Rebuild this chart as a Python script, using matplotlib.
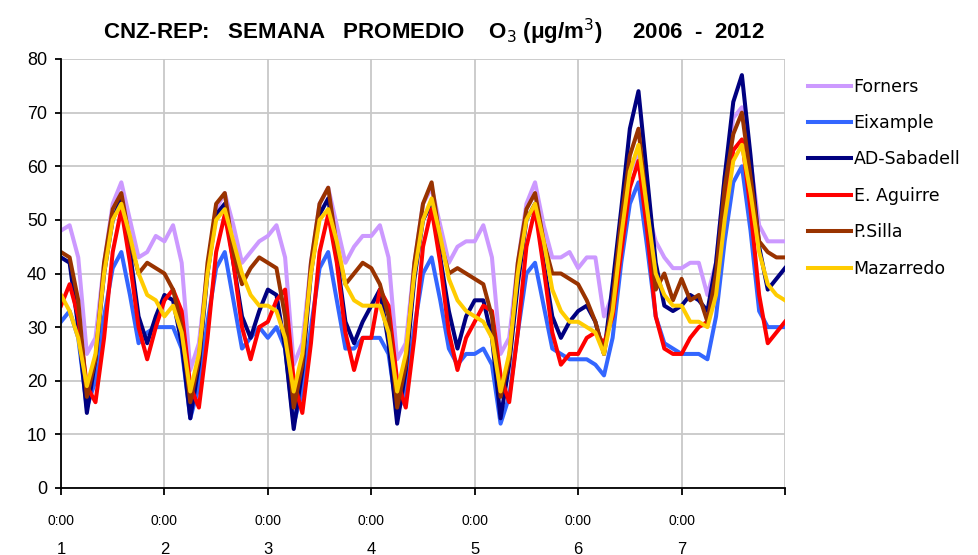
import matplotlib
matplotlib.use("Agg")
from matplotlib import pyplot as plt
from matplotlib import transforms
import numpy as np

# hourly average week, one value every 2 hours (0:00 day 1 .. 0:00 day 8)
hours = np.arange(0, 169, 2)

forners = [48, 49, 43, 25, 28, 42, 53, 57, 50, 43, 44, 47,
           46, 49, 42, 22, 27, 41, 52, 55, 49, 42, 44, 46,
           47, 49, 43, 23, 27, 42, 53, 56, 49, 42, 45, 47,
           47, 49, 43, 24, 27, 42, 53, 56, 49, 42, 45, 46,
           46, 49, 43, 25, 28, 42, 53, 57, 49, 43, 43, 44,
           41, 43, 43, 32, 36, 49, 59, 62, 52, 46, 43, 41,
           41, 42, 42, 36, 42, 58, 69, 71, 61, 49, 46, 46,
           46]
eixample = [31, 33, 28, 15, 20, 32, 41, 44, 36, 27, 29, 30,
            30, 30, 26, 13, 19, 31, 41, 44, 35, 26, 28, 30,
            28, 30, 26, 12, 18, 30, 41, 44, 35, 26, 26, 28,
            28, 28, 25, 14, 18, 30, 40, 43, 35, 26, 23, 25,
            25, 26, 23, 12, 17, 29, 40, 42, 34, 26, 25, 24,
            24, 24, 23, 21, 28, 42, 53, 57, 45, 32, 27, 26,
            25, 25, 25, 24, 32, 46, 57, 60, 48, 33, 30, 30,
            30]
sabadell = [43, 42, 30, 14, 24, 40, 50, 54, 44, 32, 27, 32,
            36, 35, 27, 13, 23, 40, 51, 53, 42, 32, 28, 33,
            37, 36, 26, 11, 22, 40, 51, 54, 43, 31, 27, 31,
            34, 37, 27, 12, 22, 39, 50, 53, 43, 33, 26, 32,
            35, 35, 28, 13, 23, 38, 50, 53, 42, 32, 28, 31,
            33, 34, 31, 25, 38, 52, 67, 74, 58, 42, 34, 33,
            34, 36, 35, 33, 42, 58, 72, 77, 62, 45, 37, 39,
            41]
aguirre = [34, 38, 32, 19, 16, 28, 44, 52, 42, 30, 24, 30,
           35, 37, 33, 19, 15, 28, 44, 51, 42, 30, 24, 30,
           31, 35, 37, 20, 14, 27, 44, 51, 42, 29, 22, 28,
           28, 37, 34, 20, 15, 28, 45, 52, 42, 29, 22, 28,
           31, 34, 33, 21, 16, 29, 45, 52, 41, 29, 23, 25,
           25, 28, 29, 27, 32, 44, 56, 61, 48, 32, 26, 25,
           25, 28, 30, 31, 38, 52, 63, 65, 52, 36, 27, 29,
           31]
silla = [44, 43, 35, 17, 24, 42, 52, 55, 46, 40, 42, 41,
         40, 37, 30, 16, 24, 42, 53, 55, 44, 38, 41, 43,
         42, 41, 32, 15, 23, 42, 53, 56, 45, 38, 40, 42,
         41, 38, 32, 15, 23, 42, 53, 57, 46, 40, 41, 40,
         39, 38, 32, 17, 24, 42, 52, 55, 46, 40, 40, 39,
         38, 35, 31, 25, 35, 50, 62, 67, 52, 37, 40, 35,
         39, 35, 36, 31, 40, 56, 66, 70, 58, 46, 44, 43,
         43]
mazarredo = [36, 33, 28, 19, 25, 40, 50, 53, 47, 40, 36, 35,
             32, 34, 29, 18, 25, 40, 50, 52, 46, 40, 36, 34,
             34, 33, 28, 18, 25, 40, 50, 52, 46, 38, 35, 34,
             34, 34, 29, 18, 25, 40, 50, 54, 47, 39, 35, 33,
             32, 31, 28, 18, 25, 40, 50, 53, 46, 37, 33, 31,
             31, 30, 29, 25, 33, 47, 59, 64, 52, 40, 36, 34,
             34, 31, 31, 30, 36, 50, 61, 64, 55, 44, 38, 36,
             35]

names = ['Forners', 'Eixample', 'AD-Sabadell', 'E. Aguirre', 'P.Silla', 'Mazarredo']
colors = ['#CC99FF', '#3366FF', '#000080', '#FF0000', '#993300', '#FFCC00']
days = ['1', '2', '3', '4', '5', '6', '7']

plt.rcParams['font.family'] = ['Liberation Sans', 'DejaVu Sans']

fig = plt.figure(figsize=(9.79, 5.55), dpi=100)
ax = fig.add_axes([61/979, 1-488/555, (785-61)/979, (488-59)/555])

for vals, name, col in zip([forners, eixample, sabadell, aguirre, silla, mazarredo], names, colors):
    ax.plot(hours, vals, color=col, lw=2.9, label=name, solid_joinstyle='round')

ax.set_xlim(0, 168)
ax.set_ylim(0, 80)
ax.set_yticks(range(0, 81, 10))
ax.set_xticks(range(0, 169, 24))
ax.set_xticklabels(['0:00'] * 7 + [''])
ax.grid(True, color='#C8C8C8', lw=1.3)
ax.set_axisbelow(True)
for s in ['top', 'right']:
    ax.spines[s].set_visible(False)
for s in ['left', 'bottom']:
    ax.spines[s].set_linewidth(1.3)
ax.tick_params(axis='y', direction='out', length=4, width=1.3, labelsize=13, pad=6)
ax.tick_params(axis='x', direction='out', length=5, width=1.3, labelsize=10, pad=14)

# day numbers under the hour labels
trans = transforms.blended_transform_factory(ax.transData, ax.transAxes)
for i, d in enumerate(days):
    ax.text(i * 24, -0.143, d, transform=trans, ha='center', va='center', fontsize=12)

ax.set_title('CNZ-REP:   SEMANA   PROMEDIO    O$_3$ ($\\mathregular{\\mu}$g/m$^3$)     2006  -  2012',
             fontsize=16, fontweight='bold', pad=14, x=0.515)

fig.legend(loc='upper left', bbox_to_anchor=(799/979, 1-69/555), frameon=False,
           prop={'family': 'DejaVu Sans', 'size': 12.5}, handlelength=2.5,
           handletextpad=0.15, labelspacing=1.06, borderpad=0)

fig.savefig('out.png', dpi=100)
